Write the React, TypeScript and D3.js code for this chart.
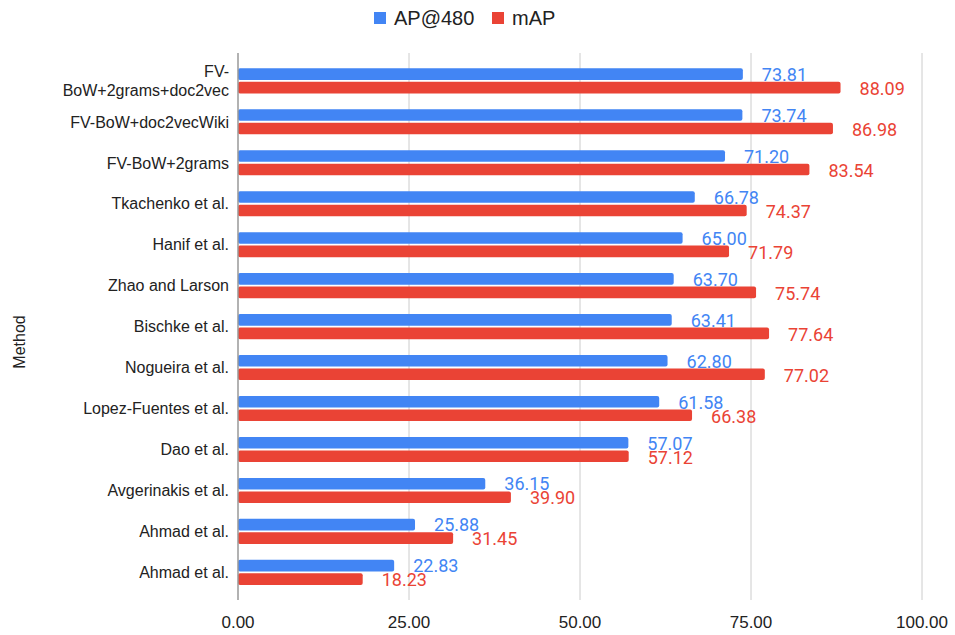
import React from "react";
import * as d3 from "d3";

const categories = [
  "FV-\nBoW+2grams+doc2vec",
  "FV-BoW+doc2vecWiki",
  "FV-BoW+2grams",
  "Tkachenko et al.",
  "Hanif et al.",
  "Zhao and Larson",
  "Bischke et al.",
  "Nogueira et al.",
  "Lopez-Fuentes et al.",
  "Dao et al.",
  "Avgerinakis et al.",
  "Ahmad et al.",
  "Ahmad et al.",
];
const ap480 = [73.81, 73.74, 71.2, 66.78, 65.0, 63.7, 63.41, 62.8, 61.58, 57.07, 36.15, 25.88, 22.83];
const mAP = [88.09, 86.98, 83.54, 74.37, 71.79, 75.74, 77.64, 77.02, 66.38, 57.12, 39.9, 31.45, 18.23];
const seriesNames = ["AP@480", "mAP"];
const seriesColors = ["#4285F4", "#EA4335"];
const xTicks = [0, 25, 50, 75, 100];
const axisTitle = "Method";

const W = 955;
const H = 635;
const LABEL_FONT = "Arial, 'Liberation Sans', sans-serif";
const VALUE_FONT = "Roboto, Arial, sans-serif";

export default function App() {
  const x = d3.scaleLinear().domain([0, 100]).range([238, 922]);
  const rows = d3.scaleBand<number>().domain(d3.range(categories.length)).range([60.5, 593]).padding(0);
  const inner = d3.scaleBand<number>().domain([0, 1]).range([-12.7, 12.4]).paddingInner(0.14);
  const series = [ap480, mAP];
  const plotTop = 53;
  const plotBottom = 600;

  return (
    <svg
      width={W}
      height={H}
      style={{ position: "absolute", left: 0, top: 0, background: "#fff" }}
    >
      {/* gridlines */}
      {xTicks.slice(1).map((t) => (
        <line key={t} x1={x(t)} x2={x(t)} y1={plotTop} y2={plotBottom} stroke="#cccccc" strokeWidth={1} />
      ))}

      {/* bars */}
      {categories.map((_, i) => {
        const cy = rows(i)! + rows.bandwidth() / 2;
        return series.map((vals, s) => (
          <rect
            key={`${i}-${s}`}
            x={x(0)}
            y={cy + inner(s)!}
            width={x(vals[i]) - x(0)}
            height={inner.bandwidth()}
            rx={2}
            fill={seriesColors[s]}
          />
        ));
      })}

      {/* zero axis */}
      <line x1={x(0)} x2={x(0)} y1={plotTop} y2={plotBottom} stroke="#999999" strokeWidth={1.5} />

      {/* value labels */}
      {categories.map((_, i) => {
        const cy = rows(i)! + rows.bandwidth() / 2;
        return series.map((vals, s) => (
          <text
            key={`l-${i}-${s}`}
            x={x(vals[i]) + 19}
            y={cy + inner(s)! + inner.bandwidth() / 2 + (s === 1 ? 1 : 0.5)}
            dy="0.35em"
            fontFamily={VALUE_FONT}
            fontSize={18}
            fill={seriesColors[s]}
          >
            {vals[i].toFixed(2)}
          </text>
        ));
      })}

      {/* category labels */}
      {categories.map((c, i) => {
        const cy = rows(i)! + rows.bandwidth() / 2;
        const lines = c.split("\n");
        const lh = 19;
        return (
          <text
            key={`c-${i}`}
            x={229}
            textAnchor="end"
            fontFamily={LABEL_FONT}
            fontSize={16}
            fill="#222222"
          >
            {lines.map((ln, k) => (
              <tspan key={k} x={229} y={cy + (k - (lines.length - 1) / 2) * lh} dy="0.35em">
                {ln}
              </tspan>
            ))}
          </text>
        );
      })}

      {/* x tick labels */}
      {xTicks.map((t) => (
        <text
          key={`t-${t}`}
          x={x(t)}
          y={622}
          dy="0.35em"
          textAnchor="middle"
          fontFamily={LABEL_FONT}
          fontSize={17}
          fill="#222222"
        >
          {t.toFixed(2)}
        </text>
      ))}

      {/* axis title */}
      <text
        transform={`translate(19.5,${342}) rotate(-90)`}
        textAnchor="middle"
        dy="0.35em"
        fontFamily={LABEL_FONT}
        fontSize={16}
        fill="#222222"
      >
        {axisTitle}
      </text>

      {/* legend */}
      {seriesNames.map((n, s) => {
        const lx = [374, 492][s];
        return (
          <g key={n}>
            <rect x={lx} y={12} width={12} height={12} fill={seriesColors[s]} />
            <text x={lx + 20} y={18} dy="0.35em" fontFamily={LABEL_FONT} fontSize={20} fill="#222222">
              {n}
            </text>
          </g>
        );
      })}
    </svg>
  );
}
